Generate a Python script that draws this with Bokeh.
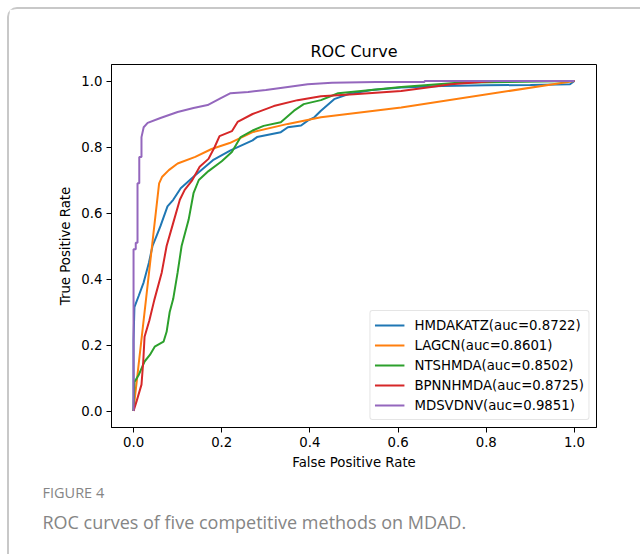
from bokeh.plotting import figure
from bokeh.models import Range1d, FixedTicker, Title, Legend, LegendItem
from bokeh.embed import file_html
from bokeh.resources import INLINE

# ---------------- data ----------------
tick_values = [0.0, 0.2, 0.4, 0.6, 0.8, 1.0]
tick_labels = ["0.0", "0.2", "0.4", "0.6", "0.8", "1.0"]

series_names = ["HMDAKATZ(auc=0.8722)", "LAGCN(auc=0.8601)", "NTSHMDA(auc=0.8502)",
                "BPNNHMDA(auc=0.8725)", "MDSVDNV(auc=0.9851)"]
series_colors = ["#1f77b4", "#ff7f0e", "#2ca02c", "#d62728", "#9467bd"]

hmdakatz_fpr = [0.0, 0.0, 0.002, 0.012, 0.023, 0.035, 0.043, 0.052, 0.061, 0.077, 0.09, 0.107, 0.136,
                0.18, 0.22, 0.27, 0.28, 0.334, 0.35, 0.38, 0.395, 0.41, 0.425, 0.455, 0.486, 0.54,
                0.607, 0.7, 0.8, 0.9, 0.99, 1.0]
hmdakatz_tpr = [0.0, 0.215, 0.315, 0.35, 0.39, 0.45, 0.50, 0.53, 0.56, 0.62, 0.64, 0.675, 0.71,
                0.76, 0.79, 0.82, 0.83, 0.845, 0.86, 0.865, 0.88, 0.89, 0.91, 0.945, 0.96, 0.973,
                0.98, 0.985, 0.987, 0.988, 0.99, 1.0]

lagcn_fpr = [0.0, 0.003, 0.058, 0.065, 0.08, 0.10, 0.14, 0.177, 0.218, 0.27, 0.35, 0.425, 0.607, 1.0]
lagcn_tpr = [0.0, 0.04, 0.69, 0.71, 0.73, 0.75, 0.77, 0.794, 0.812, 0.845, 0.87, 0.89, 0.92, 1.0]

ntshmda_fpr = [0.0, 0.002, 0.012, 0.025, 0.037, 0.048, 0.068, 0.075, 0.082, 0.09, 0.10, 0.109,
               0.125, 0.136, 0.148, 0.17, 0.2, 0.223, 0.243, 0.27, 0.295, 0.334, 0.364, 0.386,
               0.425, 0.464, 0.516, 0.607, 0.736, 0.85, 1.0]
ntshmda_tpr = [0.0, 0.088, 0.11, 0.15, 0.17, 0.195, 0.21, 0.24, 0.30, 0.34, 0.42, 0.50,
               0.58, 0.66, 0.70, 0.727, 0.757, 0.785, 0.83, 0.85, 0.864, 0.875, 0.91, 0.93,
               0.942, 0.963, 0.97, 0.982, 0.995, 0.997, 1.0]

bpnnhmda_fpr = [0.0, 0.007, 0.018, 0.022, 0.025, 0.036, 0.047, 0.064, 0.075, 0.09, 0.105, 0.116,
                0.132, 0.15, 0.17, 0.184, 0.195, 0.223, 0.236, 0.27, 0.318, 0.372, 0.425, 0.5,
                0.607, 0.675, 0.72, 0.82, 1.0]
bpnnhmda_tpr = [0.0, 0.03, 0.08, 0.15, 0.225, 0.275, 0.336, 0.42, 0.50, 0.57, 0.64, 0.67,
                0.697, 0.74, 0.764, 0.80, 0.833, 0.848, 0.876, 0.90, 0.924, 0.942, 0.954, 0.96,
                0.97, 0.982, 0.99, 1.0, 1.0]

mdsvdnv_fpr = [0.0, 0.0, 0.005, 0.005, 0.009, 0.009, 0.013, 0.013, 0.018, 0.018, 0.023, 0.032,
               0.061, 0.10, 0.136, 0.168, 0.198, 0.22, 0.26, 0.30, 0.35, 0.395, 0.45, 0.55,
               0.66, 0.66, 1.0]
mdsvdnv_tpr = [0.0, 0.49, 0.49, 0.51, 0.51, 0.69, 0.69, 0.77, 0.77, 0.83, 0.86, 0.873,
               0.888, 0.906, 0.918, 0.927, 0.948, 0.963, 0.967, 0.973, 0.982, 0.99, 0.995, 0.997,
               0.997, 1.0, 1.0]

fpr_list = [hmdakatz_fpr, lagcn_fpr, ntshmda_fpr, bpnnhmda_fpr, mdsvdnv_fpr]
tpr_list = [hmdakatz_tpr, lagcn_tpr, ntshmda_tpr, bpnnhmda_tpr, mdsvdnv_tpr]

title_text = "ROC Curve"
x_label = "False Positive Rate"
y_label = "True Positive Rate"
fig_label = "FIGURE 4"
caption_text = "ROC curves of five competitive methods on MDAD."

# ---------------- figure ----------------
WIN_W, WIN_H = 642, 556
S = 9  # canvas shift (margin 7 + border 2)
W, H = WIN_W - S, WIN_H - S
FL, FR, FT, FB = 111 - S, 596 - S, 64 - S, 427 - S

p = figure(width=W, height=H, output_backend="svg", toolbar_location=None,
           x_range=Range1d(-0.05, 1.05), y_range=Range1d(-0.05, 1.05),
           min_border_left=FL, min_border_right=W - FR,
           min_border_top=FT, min_border_bottom=H - FB,
           background_fill_color="white", border_fill_color="white",
           styles={"margin-left": "7px", "margin-top": "7px",
                   "border-left": "2px solid #c8c8c8", "border-top": "2px solid #c8c8c8",
                   "border-top-left-radius": "10px"})

p.title.text = title_text
p.title.align = "center"
p.title.text_font = "DejaVu Sans"
p.title.text_font_size = "16px"
p.title.text_font_style = "normal"
p.title.text_color = "#000000"
p.title.standoff = 7

p.grid.visible = False
p.outline_line_color = "#000000"
p.outline_line_width = 1
p.outline_line_alpha = 1

for ax in (p.xaxis[0], p.yaxis[0]):
    ax.ticker = FixedTicker(ticks=tick_values)
    ax.major_label_overrides = {v: s for v, s in zip(tick_values, tick_labels)}
    ax.minor_tick_line_color = None
    ax.major_tick_in = 0
    ax.major_tick_out = 5
    ax.major_tick_line_color = "#000000"
    ax.axis_line_color = "#000000"
    ax.major_label_standoff = 4
    ax.major_label_text_font = "DejaVu Sans"
    ax.major_label_text_font_size = "13.3px"
    ax.major_label_text_color = "#000000"
    ax.axis_label_text_font = "DejaVu Sans"
    ax.axis_label_text_font_size = "13.3px"
    ax.axis_label_text_font_style = "normal"
    ax.axis_label_text_color = "#000000"
    ax.axis_label_standoff = 5

p.xaxis[0].axis_label = x_label
p.yaxis[0].axis_label = y_label

items = []
for name, color, xs, ys in zip(series_names, series_colors, fpr_list, tpr_list):
    r = p.line(xs, ys, line_color=color, line_width=2)
    items.append(LegendItem(label=name, renderers=[r]))

legend = Legend(items=items, location="bottom_right")
legend.label_text_font = "DejaVu Sans"
legend.label_text_font_size = "13.3px"
legend.label_text_color = "#000000"
legend.label_height = 20
legend.glyph_height = 20
legend.glyph_width = 30
legend.label_standoff = 10
legend.spacing = 0
legend.padding = 4
legend.margin = 7
legend.border_line_color = "#cccccc"
legend.border_line_width = 1
legend.border_radius = 3
legend.background_fill_alpha = 0.8
p.add_layout(legend, "center")

# caption texts below the chart
t1 = Title(text=fig_label, align="left", offset=42 - 111, standoff=16,
           text_font="Open Sans", text_font_size="14.5px", text_font_style="normal",
           text_color="#858585")
t2 = Title(text=caption_text, align="left", offset=42 - 111, standoff=0,
           text_font="Open Sans", text_font_size="18px", text_font_style="normal",
           text_color="#858585", vertical_align="top")
p.add_layout(t1, "below")
p.add_layout(t2, "below")

open("out.html", "w").write(file_html(p, INLINE))
